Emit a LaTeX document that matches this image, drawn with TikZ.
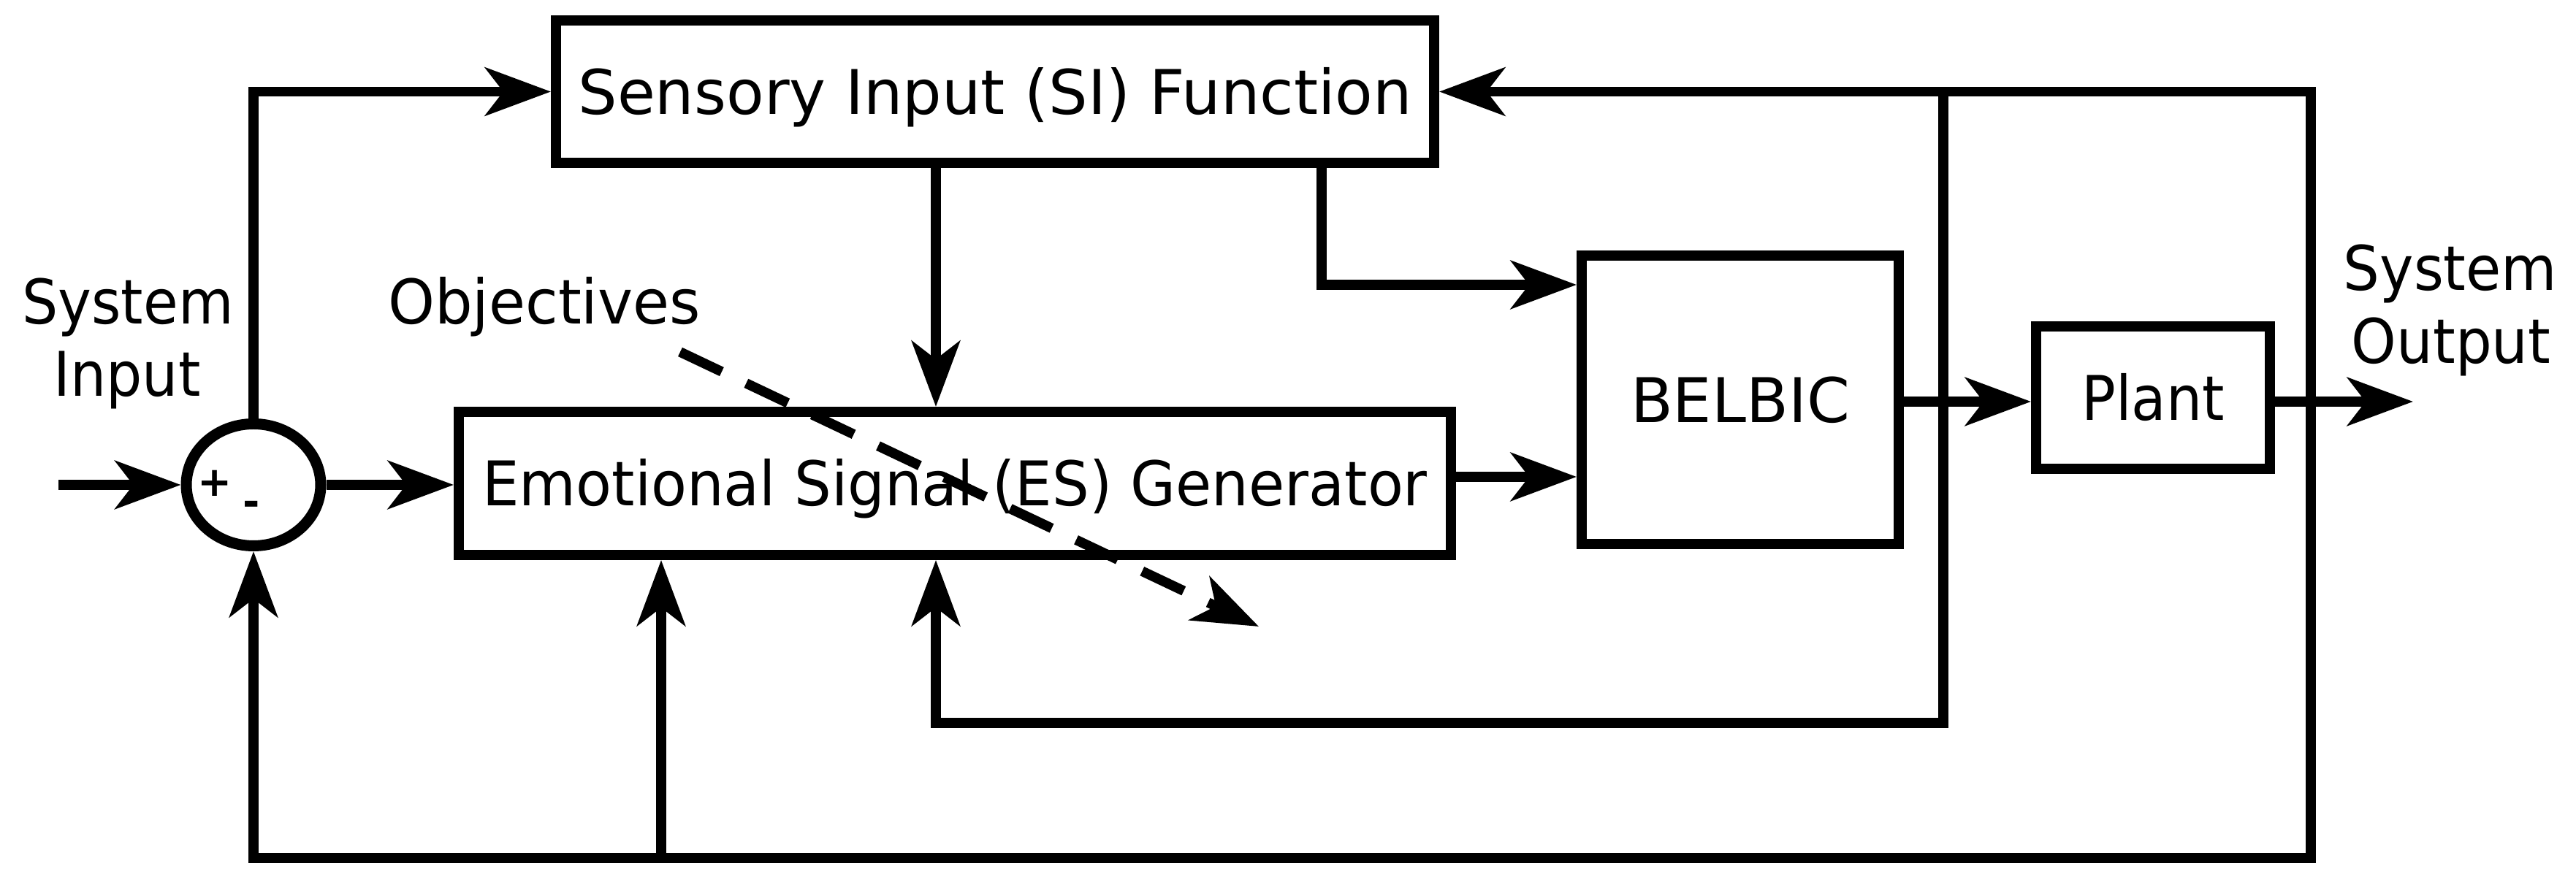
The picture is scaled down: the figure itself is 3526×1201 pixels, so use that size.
\documentclass[tikz,border=0pt]{standalone}
\usepackage{fontspec}
\usepackage{graphicx}
\setmainfont{DejaVu Sans}
\usetikzlibrary{arrows.meta,shapes.geometric}
\newcommand\hsq[2]{\scalebox{#1}[1]{#2}}
\begin{document}
\begin{tikzpicture}[x=0.1mm,y=-0.1mm,
  lw/.style={line width=0.135cm},
  tip/.tip={Stealth[length=0.9cm,width=0.66cm,inset=0.25cm]},
  arr/.style={lw,-tip},
  blk/.style={draw,line width=0.14cm,inner sep=0pt,text height=0.62cm,text depth=0cm,font=\fontsize{24}{28}\selectfont},
  lbl/.style={inner sep=0pt,font=\fontsize{24}{28}\selectfont},
  sgn/.style={inner sep=0pt,font=\bfseries\fontsize{16}{18}\selectfont}
]
\useasboundingbox (0,0) rectangle (3526,1201);

% blocks
\node[blk,minimum width=12.02cm,minimum height=1.95cm] (si) at (1362,125.5) {Sensory Input (SI) Function};
\node[blk,minimum width=13.58cm,minimum height=1.96cm] (es) at (1307,662) {\hsq{0.948}{Emotional Signal (ES) Generator}};
\node[blk,minimum width=4.34cm,minimum height=3.95cm] (bel) at (2382,547.5) {BELBIC};
\node[blk,minimum width=3.20cm,minimum height=1.95cm] (plant) at (2947,544.5) {\hsq{0.92}{Plant}};
\node[draw,ellipse,line width=0.15cm,inner sep=0pt,minimum width=1.84cm,minimum height=1.67cm] (sum) at (347,664) {};
\node[sgn,anchor=base] (plus) at (294,680) {+};
\node[sgn,anchor=base] (minus) at (344,707) {-};

% labels
\node[lbl,anchor=base] (sysin1) at (175,444) {\hsq{0.92}{System}};
\node[lbl,anchor=base] (sysin2) at (174,543) {\hsq{0.92}{Input}};
\node[lbl,anchor=base] (obj) at (745,444) {\hsq{0.964}{Objectives}};
\node[lbl,anchor=base] (sysout1) at (3354,398) {\hsq{0.93}{System}};
\node[lbl,anchor=base] (sysout2) at (3355,498) {\hsq{0.93}{Output}};

% helper coordinates
\coordinate (inp) at (80,664);
\coordinate (xa) at (1281,0);
\coordinate (xb) at (1809,390);
\coordinate (xc) at (905,0);
\coordinate (yes) at (0,653);
\coordinate (yp) at (0,550);
\coordinate (out) at (3303,550);
\coordinate (fbbot) at (3163,1175);
\coordinate (br) at (2660,126);
\coordinate (brlow) at (2660,990);
\coordinate (objs) at (931,482);
\coordinate (objt) at (1723,858);

% connectors
\draw[arr] (inp) -- (sum.west);
\draw[arr] (sum.north) |- (si.west);
\draw[arr] (sum.east) -- (sum.east -| es.west);
\draw[arr] (si.south -| xa) -- (es.north -| xa);
\draw[arr] (si.south -| xb) |- (bel.west |- xb);
\draw[arr] (es.east |- yes) -- (bel.west |- yes);
\draw[arr] (bel.east |- yp) -- (plant.west |- yp);
\draw[arr] (plant.east |- yp) -- (out);
\draw[lw,tip-tip] (si.east) -| (fbbot) -| (sum.south);
\draw[arr] (fbbot -| xc) -- (es.south -| xc);
\draw[arr] (br) -- (brlow) -| (es.south -| xa);
\draw[arr,dash pattern=on 0.63cm off 0.37cm] (objs) -- (objt);
\end{tikzpicture}
\end{document}
